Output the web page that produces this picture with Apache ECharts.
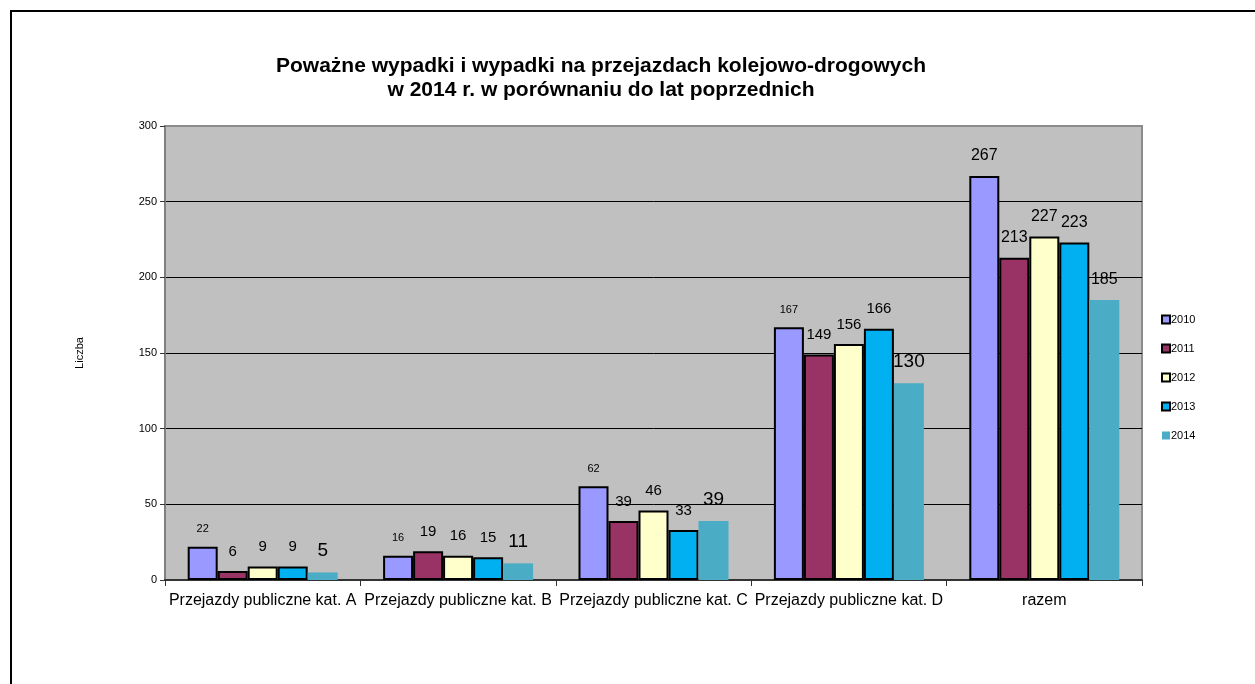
<!DOCTYPE html>
<html>
<head>
<meta charset="utf-8">
<script src="https://cdn.jsdelivr.net/npm/echarts@6/dist/echarts.min.js"></script>
<style>
html,body{margin:0;padding:0;background:#fff;overflow:hidden;}
#frame{position:absolute;left:10px;top:10px;width:2000px;height:2000px;border:2px solid #000;}
#main{position:absolute;left:0;top:0;width:1255px;height:684px;}
</style>
</head>
<body>
<div id="frame"></div>
<div id="main"></div>
<script>
var categories = ['Przejazdy publiczne kat. A', 'Przejazdy publiczne kat. B', 'Przejazdy publiczne kat. C', 'Przejazdy publiczne kat. D', 'razem'];
var years = ['2010', '2011', '2012', '2013', '2014'];
var v2010 = [22, 16, 62, 167, 267];
var v2011 = [6, 19, 39, 149, 213];
var v2012 = [9, 16, 46, 156, 227];
var v2013 = [9, 15, 33, 166, 223];
var v2014 = [5, 11, 39, 130, 185];
var yTicks = [0, 50, 100, 150, 200, 250, 300];

var chart = echarts.init(document.getElementById('main'));

var colors = ['#9999FF', '#993366', '#FFFFCC', '#00B0F0', '#4BACC6'];
var labelSizes = [11, 15, 15, 15, 19];   // per series, last category uses 16
var values = [v2010, v2011, v2012, v2013, v2014];

function makeSeries(i) {
    return {
        name: years[i],
        type: 'bar',
        data: values[i].map(function (v, j) {
            return { value: v, label: { fontSize: j === 4 ? 16 : labelSizes[i] } };
        }),
        barWidth: 30,
        barGap: '0%',
        itemStyle: {
            color: colors[i],
            borderColor: '#000',
            borderWidth: i < 4 ? 2 : 0
        },
        label: {
            show: true,
            position: 'top',
            distance: 12,
            color: '#000',
            fontFamily: 'Liberation Sans'
        }
    };
}

var option = {
    animation: false,
    title: {
        text: 'Poważne wypadki i wypadki na przejazdach kolejowo-drogowych\nw 2014 r. w porównaniu do lat poprzednich',
        left: 596,
        top: 49,
        textAlign: 'center',
        textStyle: {
            fontFamily: 'Liberation Sans',
            fontWeight: 'bold',
            fontSize: 21,
            lineHeight: 24,
            color: '#000'
        }
    },
    legend: {
        orient: 'vertical',
        left: 1156,
        top: 309,
        icon: 'rect',
        itemWidth: 8,
        itemHeight: 8,
        itemGap: 18,
        data: years,
        textStyle: {
            fontFamily: 'Liberation Sans',
            fontSize: 11,
            color: '#000',
            padding: [0, 0, 0, -4]
        }
    },
    grid: {
        left: 165,
        top: 126,
        right: 113,
        bottom: 104,
        show: true,
        backgroundColor: '#C0C0C0',
        borderColor: '#8c8c8c',
        borderWidth: 2
    },
    xAxis: {
        type: 'category',
        data: categories,
        axisLine: { lineStyle: { color: '#333', width: 2 } },
        axisTick: { show: true, length: 6, lineStyle: { color: '#333' } },
        axisLabel: {
            interval: 0,
            margin: 13,
            fontFamily: 'Liberation Sans',
            fontSize: 16,
            color: '#000'
        }
    },
    yAxis: {
        type: 'value',
        min: yTicks[0],
        max: yTicks[yTicks.length - 1],
        interval: 50,
        name: 'Liczba',
        nameLocation: 'middle',
        nameGap: 80,
        nameTextStyle: { fontFamily: 'Liberation Sans', fontSize: 11, color: '#000' },
        axisLine: { show: true, lineStyle: { color: '#808080', width: 2 } },
        axisTick: { show: true, length: 5, lineStyle: { color: '#333' } },
        axisLabel: {
            margin: 8,
            fontFamily: 'Liberation Sans',
            fontSize: 11,
            color: '#000'
        },
        splitLine: { show: true, showMaxLine: false, lineStyle: { color: '#000', width: 1 } }
    },
    series: [0, 1, 2, 3, 4].map(makeSeries)
};

chart.setOption(option);
</script>
</body>
</html>
